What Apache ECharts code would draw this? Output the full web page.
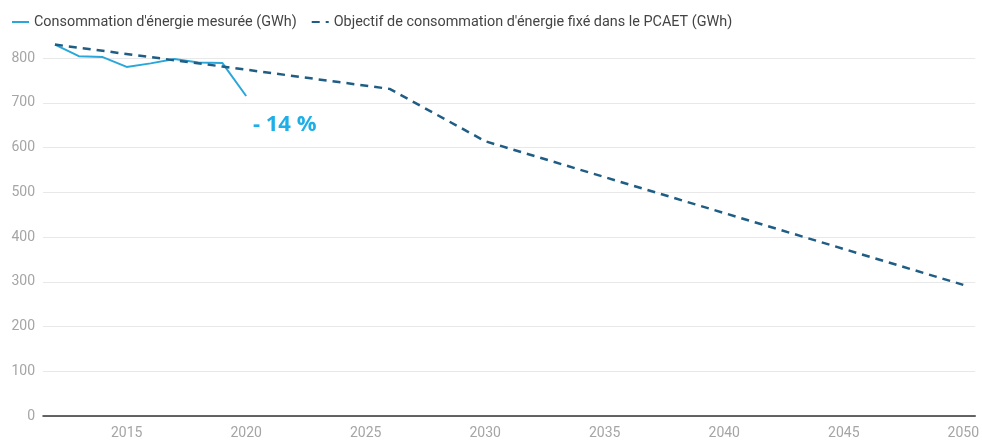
<!DOCTYPE html>
<html>
<head>
<meta charset="UTF-8">
<title>Consommation d'énergie</title>
<script src="https://cdn.jsdelivr.net/npm/echarts@6/dist/echarts.min.js" type="text/javascript"></script>
<style type="text/css">
    html,body{
        margin:0;
        height:100%;
        background:#fff;
    }
</style>
</head>
<body>
<div id="container" style="width:982px;height:443px"></div>
<script type="text/javascript">
	// années 2012 -> 2050
	var years = [];
	for (var y = 2012; y <= 2050; y++) years.push(String(y));

	// consommation mesurée (GWh), 2012 -> 2020
	var mesureYears = ['2012','2013','2014','2015','2016','2017','2018','2019','2020'];
	var mesureValues = [830, 804, 802, 780, 788, 798, 790, 789, 715];

	// objectif PCAET (GWh), points de la trajectoire
	var objectifYears = ['2012','2019','2026','2030','2050'];
	var objectifValues = [830, 781, 731, 614, 293];

	var yTicks = [0, 100, 200, 300, 400, 500, 600, 700, 800];

	function spread(keys, vals) {
		return years.map(function (yr) {
			var i = keys.indexOf(yr);
			return i < 0 ? null : vals[i];
		});
	}

	var chart = echarts.init(document.getElementById('container'));
	var option = {
		animation: false,
		textStyle: { fontFamily: 'Roboto' },
		legend: {
			left: 6,
			top: 10,
			itemWidth: 17,
			itemHeight: 10,
			itemGap: 14,
			itemStyle: { opacity: 0 },
			textStyle: { color: '#444', fontSize: 14.4 },
			data: ["Consommation d'énergie mesurée (GWh)", "Objectif de consommation d'énergie fixé dans le PCAET (GWh)"]
		},
		grid: { left: 43, right: 5, top: 58, bottom: 27 },
		xAxis: {
			type: 'category',
			data: years,
			boundaryGap: true,
			axisLine: { lineStyle: { color: '#333', width: 1.5 } },
			axisTick: { show: false },
			axisLabel: {
				color: '#a5a5a5',
				fontSize: 14,
				margin: 10,
				interval: function (i, v) { return Number(v) % 5 === 0; }
			},
			splitLine: { show: false }
		},
		yAxis: {
			type: 'value',
			min: yTicks[0],
			max: yTicks[yTicks.length - 1],
			interval: 100,
			axisLine: { show: false },
			axisTick: { show: false },
			axisLabel: { color: '#a5a5a5', fontSize: 14, margin: 8 },
			splitLine: { lineStyle: { color: '#e8e8e8' } }
		},
		graphic: [{
			type: 'text',
			left: 253,
			top: 114,
			style: { text: '- 14 %', fill: '#1eaee8', font: 'bold 22px "Open Sans"' }
		}],
		series: [{
			name: "Consommation d'énergie mesurée (GWh)",
			type: 'line',
			data: spread(mesureYears, mesureValues),
			symbol: 'none',
			clip: false,
			color: '#2aa7d9',
			lineStyle: { width: 2, color: '#2aa7d9' }
		}, {
			name: "Objectif de consommation d'énergie fixé dans le PCAET (GWh)",
			type: 'line',
			data: spread(objectifYears, objectifValues),
			connectNulls: true,
			symbol: 'none',
			clip: false,
			color: '#1f5d84',
			lineStyle: { width: 2.5, color: '#1f5d84', type: [8, 6] }
		}]
	};
	chart.setOption(option);
</script>
</body>
</html>
